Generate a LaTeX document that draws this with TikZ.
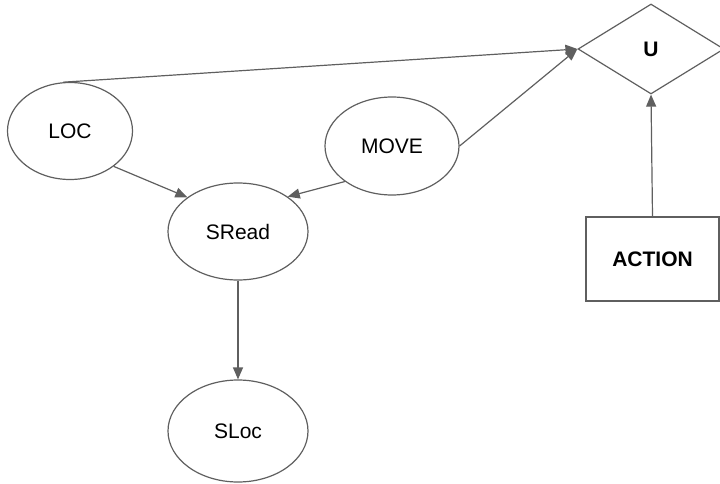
\documentclass[tikz,border=0pt]{standalone}
\usepackage{fontspec}
\setmainfont{Liberation Sans}
\usetikzlibrary{shapes.geometric,arrows.meta}
\definecolor{lc}{RGB}{95,95,95}
\tikzset{
  ell/.style={draw=lc, line width=1.2pt, ellipse, inner sep=0pt, font=\fontsize{21}{25}\selectfont},
  conn/.style={draw=lc, line width=1.2pt, -{Triangle[length=12pt,width=10pt]}},
}
\begin{document}
\begin{tikzpicture}[x=1pt,y=-1pt]
\useasboundingbox (0,0) rectangle (720,484);
\node[ell, minimum width=125pt, minimum height=97pt] (LOC) at (70,131) {LOC};
\node[ell, minimum width=134pt, minimum height=98pt] (MOVE) at (392,146) {MOVE};
\node[ell, minimum width=140pt, minimum height=97pt] (SRead) at (238,231.5) {SRead};
\node[ell, minimum width=140pt, minimum height=102pt] (SLoc) at (238,431) {SLoc};
\node[draw=lc, line width=1.2pt, diamond, inner sep=0pt, minimum width=146pt, minimum height=90pt, font=\fontsize{21}{25}\selectfont\bfseries] (U) at (651,49) {U};
\node[draw=lc, line width=1.2pt, rectangle, inner sep=0pt, minimum width=133pt, minimum height=84pt, font=\fontsize{21}{25}\selectfont\bfseries] (ACTION) at (652.5,259) {ACTION};
\draw[conn] (LOC.98) -- (U.west);
\draw[conn] (MOVE.east) -- (U.west);
\draw[conn] (LOC.-39) -- (SRead.146);
\draw[conn] (MOVE.-143) -- (SRead.35);
\draw[conn] (SRead.south) -- (SLoc.north);
\draw[conn] (ACTION.north) -- (U.south);
\end{tikzpicture}
\end{document}
